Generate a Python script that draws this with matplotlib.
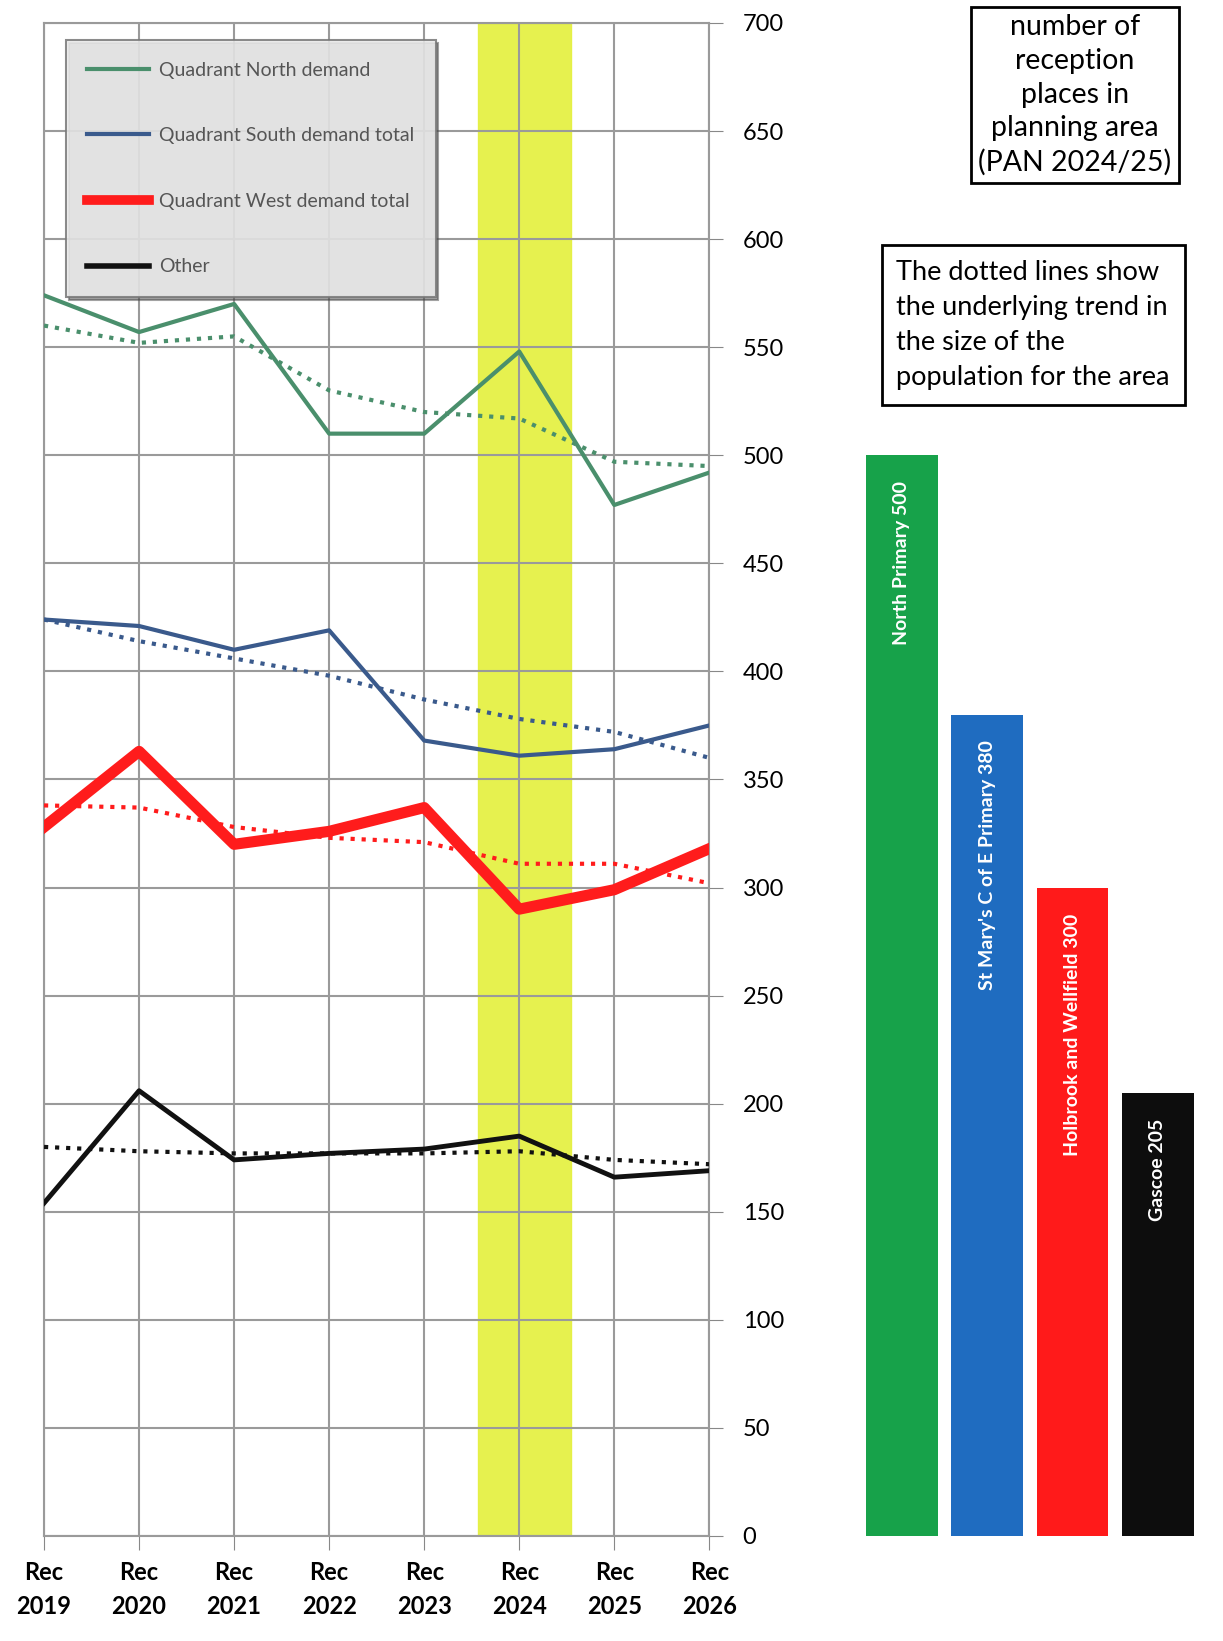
import matplotlib
matplotlib.use("Agg")
import matplotlib.pyplot as plt


plt.rcParams["font.family"] = ["Lato", "DejaVu Sans"]


years = ["Rec\n2019", "Rec\n2020", "Rec\n2021", "Rec\n2022",
         "Rec\n2023", "Rec\n2024", "Rec\n2025", "Rec\n2026"]

green_actual = [574, 557, 570, 510, 510, 548, 477, 492]
green_trend = [560, 552, 555, 530, 520, 517, 497, 495]

blue_actual = [424, 421, 410, 419, 368, 361, 364, 375]
blue_trend = [424, 414, 406, 398, 387, 378, 372, 360]

red_actual = [328, 363, 320, 326, 337, 290, 299, 318]
red_trend = [338, 337, 328, 323, 321, 311, 311, 302]

black_actual = [154, 206, 174, 177, 179, 185, 166, 169]
black_trend = [180, 178, 177, 177, 177, 178, 174, 172]

legend_labels = ["Quadrant North demand", "Quadrant South demand total",
                 "Quadrant West demand total", "Other"]

bar_labels = ["North Primary 500", "St Mary's C of E Primary 380",
              "Holbrook and Wellfield 300", "Gascoe 205"]
bar_values = [500, 380, 300, 205]

highlight = (4.57, 5.54)

green = "#4a8f6c"
blue = "#3a5a8c"
red = "#ff1c1c"
black = "#111111"

bar_colors = ["#17a24a", "#1f6cc0", "#ff1a1a", "#0d0d0d"]


fig = plt.figure(figsize=(12.23, 16.41), dpi=100)

ax = fig.add_axes([0.036, 0.064, 0.544, 0.922])

x = list(range(len(years)))

ax.axvspan(highlight[0], highlight[1], color="#e4f03c", alpha=0.9, zorder=1)

ax.plot(x, green_actual, color=green, lw=3, zorder=4)
ax.plot(x, green_trend, color=green, lw=3, ls=":", zorder=4)

ax.plot(x, blue_actual, color=blue, lw=3, zorder=4)
ax.plot(x, blue_trend, color=blue, lw=3, ls=":", zorder=4)

ax.plot(x, red_actual, color=red, lw=8, zorder=4)
ax.plot(x, red_trend, color=red, lw=3, ls=":", zorder=4)

ax.plot(x, black_actual, color=black, lw=3.5, zorder=4)
ax.plot(x, black_trend, color=black, lw=3, ls=":", zorder=4)

ax.set_xlim(0, 7)
ax.set_ylim(0, 700)
ax.set_xticks(x)
ax.set_xticklabels(years, fontsize=17, fontweight="bold", linespacing=1.6)
ax.set_yticks(range(0, 701, 50))
ax.yaxis.tick_right()
ax.tick_params(axis="y", labelsize=17, length=10, color="#888888", pad=14)
ax.tick_params(axis="x", length=10, color="#888888", pad=8)
ax.grid(True, color="#9a9a9a", lw=1.5, zorder=0)
for s in ax.spines.values():
    s.set_color("#9a9a9a")
    s.set_linewidth(1.5)

handles = [
    plt.Line2D([], [], color=green, lw=3),
    plt.Line2D([], [], color=blue, lw=3),
    plt.Line2D([], [], color=red, lw=7),
    plt.Line2D([], [], color=black, lw=4),
]
leg = ax.legend(handles, legend_labels, loc="upper left",
                bbox_to_anchor=(0.018, 0.995), fontsize=14,
                labelspacing=2.5, handlelength=3.2, borderpad=1.1,
                handletextpad=0.5, fancybox=False, framealpha=0.85,
                facecolor="#eeeeee", edgecolor="#777777", shadow=True)
leg.get_frame().set_linewidth(1.5)
for t in leg.get_texts():
    t.set_color("#555555")
leg.set_zorder(6)


bx = fig.add_axes([0.706, 0.064, 0.272, 0.922])
pos = list(range(len(bar_values)))
bx.bar(pos, bar_values, width=0.84, color=bar_colors, zorder=2)
for p, v, lab in zip(pos, bar_values, bar_labels):
    bx.text(p, v - 12, lab, rotation=90, ha="center", va="top",
            color="white", fontsize=14, fontweight="bold")
bx.set_xlim(-0.45, 3.45)
bx.set_ylim(0, 700)
bx.axis("off")


fig.text(0.879, 0.942,
         "number of\nreception\nplaces in\nplanning area\n(PAN 2024/25)",
         ha="center", va="center", fontsize=20.5, linespacing=1.36,
         bbox=dict(boxstyle="square,pad=0.25", fc="white", ec="black", lw=2))

fig.text(0.733, 0.802,
         "The dotted lines show\nthe underlying trend in\nthe size of the\npopulation for the area",
         ha="left", va="center", fontsize=19.5, linespacing=1.5,
         bbox=dict(boxstyle="square,pad=0.55", fc="white", ec="black", lw=2))


fig.savefig("out.png", dpi=100)
